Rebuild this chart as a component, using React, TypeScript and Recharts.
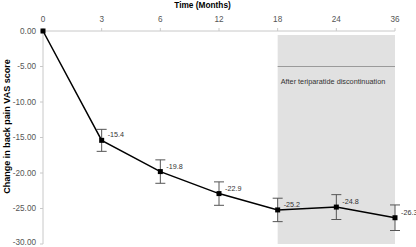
import {
  LineChart,
  Line,
  XAxis,
  YAxis,
  ErrorBar,
  ReferenceArea,
  ReferenceLine,
  LabelList,
  Label,
} from 'recharts';

const months = ['0', '3', '6', '12', '18', '24', '36'];
const vasChange = [0, -15.4, -19.8, -22.9, -25.2, -24.8, -26.3];
const vasError = [0, 1.55, 1.65, 1.65, 1.65, 1.75, 1.8];
const yTicks = [0, -5, -10, -15, -20, -25, -30];

const FONT = '"Liberation Sans", Arial, sans-serif';

const data = months.map((m, i) => ({
  month: m,
  value: vasChange[i],
  err: vasError[i],
}));

// small black square marker
function SquareDot(props: any) {
  const { cx, cy } = props;
  if (cx == null || cy == null) return null;
  return <rect x={cx - 2.5} y={cy - 2.5} width={5} height={5} fill="#000" />;
}

function ValueLabel(props: any) {
  const { x, y, value, index } = props;
  if (index === 0) return null;
  return (
    <text x={x + 6} y={y - 3} fontSize={7.2} fill="#333" fontFamily={FONT}>
      {value.toFixed(1)}
    </text>
  );
}

function PhaseLabel(props: any) {
  const { viewBox } = props;
  return (
    <text x={viewBox.x + 3} y={viewBox.y + 17} fontSize={7.3} fill="#333" fontFamily={FONT}>
      After teriparatide discontinuation
    </text>
  );
}

function TitleLabel(props: any) {
  const { viewBox } = props;
  return (
    <text
      x={viewBox.x + viewBox.width / 2 - 16.5}
      y={8}
      textAnchor="middle"
      fontSize={8.3}
      fontWeight="bold"
      fill="#000"
      fontFamily={FONT}
    >
      Time (Months)
    </text>
  );
}

function YTitle() {
  return (
    <text
      x={10}
      y={126.5}
      transform="rotate(-90 10 126.5)"
      textAnchor="middle"
      fontSize={9}
      fontWeight="bold"
      fill="#000"
      fontFamily={FONT}
    >
      Change in back pain VAS score
    </text>
  );
}

export default function App() {
  return (
    <div style={{ position: 'absolute', left: 0, top: 0, width: 416, height: 247, background: '#fff' }}>
      <LineChart
        width={416}
        height={247}
        data={data}
        margin={{ top: 0, right: 21, bottom: 3, left: 0 }}
      >
        <ReferenceArea x1="18" x2="36" y1={-0.55} y2={-30} fill="#e1e1e1" fillOpacity={1} stroke="none" />
        <ReferenceLine
          segment={[{ x: '18', y: -5 }, { x: '36', y: -5 }]}
          stroke="#9a9a9a"
          strokeWidth={1}
        >
          <Label content={<PhaseLabel />} />
        </ReferenceLine>
        <XAxis
          dataKey="month"
          orientation="top"
          height={31}
          axisLine={{ stroke: '#c8c8c8' }}
          tickLine={{ stroke: '#c8c8c8' }}
          tickSize={3}
          tickMargin={6}
          tick={{ fontSize: 8.2, fill: '#555', fontFamily: FONT }}
          padding={{ left: 0, right: 0 }}
        >
          <Label content={<TitleLabel />} />
        </XAxis>
        <YAxis
          domain={[-30, 0]}
          ticks={yTicks}
          width={43}
          axisLine={{ stroke: '#c8c8c8' }}
          tickLine={{ stroke: '#c8c8c8' }}
          tickSize={3}
          tickMargin={4}
          tickFormatter={(v: number) => v.toFixed(2)}
          tick={{ fontSize: 8.2, fill: '#555', fontFamily: FONT }}
        >
          <Label content={<YTitle />} />
        </YAxis>
        <Line
          dataKey="value"
          stroke="#000"
          strokeWidth={1.5}
          dot={<SquareDot />}
          activeDot={false}
          isAnimationActive={false}
        >
          <ErrorBar dataKey="err" width={5} stroke="#555" strokeWidth={1} />
          <LabelList dataKey="value" content={<ValueLabel />} />
        </Line>
      </LineChart>
    </div>
  );
}
